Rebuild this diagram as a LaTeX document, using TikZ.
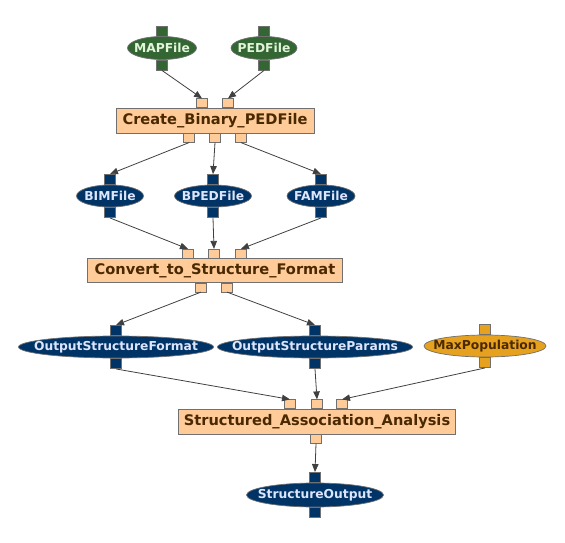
\documentclass[tikz,border=0pt]{standalone}
\usepackage{fontspec}
\setmainfont{DejaVu Sans}
\usetikzlibrary{shapes.geometric,arrows.meta}
\definecolor{grn}{HTML}{336633}
\definecolor{grntxt}{HTML}{E2F5DA}
\definecolor{blu}{HTML}{003366}
\definecolor{blutxt}{HTML}{DDE6FF}
\definecolor{org}{HTML}{FFCC99}
\definecolor{gold}{HTML}{E6A11E}
\definecolor{brn}{HTML}{4A2800}
\definecolor{bord}{HTML}{707070}
\definecolor{arr}{HTML}{404040}
\newcommand{\zbox}[1]{\makebox[0pt]{#1}}
\begin{document}
\begin{tikzpicture}[x=1pt,y=-1pt,
  data/.style={ellipse, draw=bord, line width=0.7pt, inner sep=0pt,
    minimum width=#1, minimum height=23pt,
    font=\bfseries\fontsize{12.3}{13}\selectfont},
  gdata/.style={data=#1, fill=grn, text=grntxt},
  bdata/.style={data=#1, fill=blu, text=blutxt},
  odata/.style={data=#1, fill=gold, text=brn},
  taskbox/.style={rectangle, draw=bord, line width=0.8pt, fill=org, text=brn,
    minimum width=#1, minimum height=25pt, inner sep=0pt,
    font=\bfseries\fontsize{14.6}{15}\selectfont},
  port/.style={rectangle, draw=bord, line width=0.6pt, minimum width=11.5pt,
    minimum height=10pt, inner sep=0pt},
  gport/.style={port, fill=grn},
  bport/.style={port, fill=blu},
  oport/.style={port, fill=gold},
  tport/.style={port, fill=org, minimum height=9pt},
  flow/.style={draw=arr, line width=0.8pt, -{Triangle[length=8pt,width=6.5pt]}}
]
\useasboundingbox (0,0) rectangle (565,543);

% ---- data nodes row 1
\node[gdata=69pt] (map) at (162,48) {\zbox{MAPFile}};
\node[gdata=66pt] (ped) at (264,48) {\zbox{PEDFile}};
\node[gport, anchor=south] (mapi) at (map.north) {};
\node[gport, anchor=north] (mapo) at (map.south) {};
\node[gport, anchor=south] (pedi) at (ped.north) {};
\node[gport, anchor=north] (pedo) at (ped.south) {};

% ---- task 1
\node[taskbox=198pt] (cb) at (215,120.5) {Create\_Binary\_PEDFile};
\node[tport, anchor=south] (cbi1) at (202,108) {};
\node[tport, anchor=south] (cbi2) at (228,108) {};
\node[tport, anchor=north] (cbo1) at (189,133) {};
\node[tport, anchor=north] (cbo2) at (215,133) {};
\node[tport, anchor=north] (cbo3) at (241,133) {};

% ---- data row 2
\node[bdata=67pt, minimum height=22pt] (bim) at (110,196) {\zbox{BIMFile}};
\node[bdata=77pt, minimum height=22pt] (bped) at (213,196) {\zbox{BPEDFile}};
\node[bdata=68pt, minimum height=22pt] (fam) at (321,196) {\zbox{FAMFile}};
\node[bport, anchor=south] (bimi) at (bim.north) {};
\node[bport, anchor=north] (bimo) at (bim.south) {};
\node[bport, anchor=south] (bpedi) at (bped.north) {};
\node[bport, anchor=north] (bpedo) at (bped.south) {};
\node[bport, anchor=south] (fami) at (fam.north) {};
\node[bport, anchor=north] (famo) at (fam.south) {};

% ---- task 2
\node[taskbox=255pt, minimum height=24pt] (cv) at (215,270.5) {Convert\_to\_Structure\_Format};
\node[tport, anchor=south] (cvi1) at (188,258.5) {};
\node[tport, anchor=south] (cvi2) at (214,258.5) {};
\node[tport, anchor=south] (cvi3) at (241,258.5) {};
\node[tport, anchor=north] (cvo1) at (201,282.5) {};
\node[tport, anchor=north] (cvo2) at (227,282.5) {};

% ---- data row 3
\node[bdata=195pt, minimum height=22pt] (osf) at (116,347) {\zbox{OutputStructureFormat}};
\node[bdata=195pt, minimum height=22pt] (osp) at (315,347) {\zbox{OutputStructureParams}};
\node[odata=122pt, minimum height=22pt] (mp) at (485,346) {\zbox{MaxPopulation}};
\node[bport, anchor=south] (osfi) at (osf.north) {};
\node[bport, anchor=north] (osfo) at (osf.south) {};
\node[bport, anchor=south] (ospi) at (osp.north) {};
\node[bport, anchor=north] (ospo) at (osp.south) {};
\node[oport, anchor=south] (mpi) at (mp.north) {};
\node[oport, anchor=north] (mpo) at (mp.south) {};

% ---- task 3
\node[taskbox=277pt] (saa) at (317,421.5) {Structured\_Association\_Analysis};
\node[tport, anchor=south] (saai1) at (290,409) {};
\node[tport, anchor=south] (saai2) at (317,409) {};
\node[tport, anchor=south] (saai3) at (342,409) {};
\node[tport, anchor=north] (saao) at (316,434) {};

% ---- output
\node[bdata=137pt, minimum height=24pt] (so) at (315,495) {\zbox{StructureOutput}};
\node[bport, anchor=south] (soi) at (so.north) {};
\node[bport, anchor=north] (soo) at (so.south) {};

% ---- connectors
\draw[flow] (mapo.south) -- (cbi1.north);
\draw[flow] (pedo.south) -- (cbi2.north);
\draw[flow] (cbo1.south) -- (bimi.north);
\draw[flow] (cbo2.south) -- (bpedi.north);
\draw[flow] (cbo3.south) -- (fami.north);
\draw[flow] (bimo.south) -- (cvi1.north);
\draw[flow] (bpedo.south) -- (cvi2.north);
\draw[flow] (famo.south) -- (cvi3.north);
\draw[flow] (cvo1.south) -- (osfi.north);
\draw[flow] (cvo2.south) -- (ospi.north);
\draw[flow] (osfo.south) -- (saai1.north);
\draw[flow] (ospo.south) -- (saai2.north);
\draw[flow] (mpo.south) -- (saai3.north);
\draw[flow] (saao.south) -- (soi.north);
\end{tikzpicture}
\end{document}
